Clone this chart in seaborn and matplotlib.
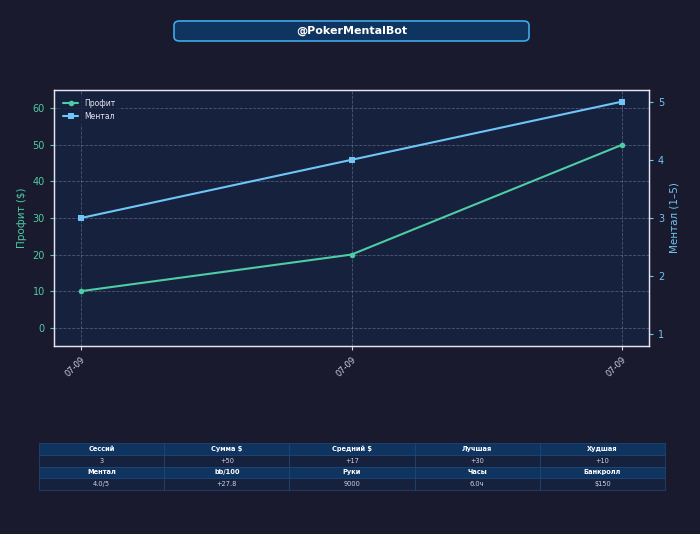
import pandas as pd
import matplotlib
matplotlib.use('Agg')
import matplotlib.pyplot as plt
import seaborn as sns
from matplotlib.patches import FancyBboxPatch

# data
dates = ['07-09', '07-09', '07-09']
profit = [10, 20, 50]
mental = [3, 4, 5]

stat_headers_1 = ['Сессий', 'Сумма $', 'Средний $', 'Лучшая', 'Худшая']
stat_values_1 = ['3', '+50', '+17', '+30', '+10']
stat_headers_2 = ['Ментал', 'bb/100', 'Руки', 'Часы', 'Банкролл']
stat_values_2 = ['4.0/5', '+27.8', '9000', '6.0ч', '$150']

BG = '#1a1a2e'
AX_BG = '#16213e'
HEAD_BG = '#0f3460'
GREEN = '#4ecca3'
BLUE = '#6ec6f7'

sns.set_style('dark')
plt.rcParams['font.family'] = ['DejaVu Sans']

df = pd.DataFrame({'idx': range(len(dates)), 'profit': profit, 'mental': mental})

fig = plt.figure(figsize=(7, 5.34), dpi=100, facecolor=BG)
ax = fig.add_axes([54 / 700, 1 - 346 / 534, 595 / 700, 256 / 534])
ax.set_facecolor(AX_BG)

sns.lineplot(data=df, x='idx', y='profit', ax=ax, color=GREEN, marker='o',
             markersize=4, markeredgewidth=0, linewidth=1.5, label='Профит', legend=False)
ax2 = ax.twinx()
sns.lineplot(data=df, x='idx', y='mental', ax=ax2, color=BLUE, marker='s',
             markersize=4.5, markeredgewidth=0, linewidth=1.5, label='Ментал', legend=False)

ax.set_ylim(-5, 65)
ax2.set_ylim(0.8, 5.2)
ax.set_xlim(-0.1, 2.1)
ax.set_xticks(df['idx'])
ax.set_xticklabels(dates, rotation=45, ha='right', rotation_mode='anchor')
ax.set_yticks([0, 10, 20, 30, 40, 50, 60])
ax2.set_yticks([1, 2, 3, 4, 5])

ax.grid(True, color='#8a8fa8', linestyle='--', linewidth=0.6, alpha=0.5)
ax2.grid(False)

ax.set_xlabel('')
ax.set_ylabel('Профит ($)', color=GREEN, fontsize=7.5)
ax2.set_ylabel('Ментал (1–5)', color=BLUE, fontsize=7.5)
ax.tick_params(axis='y', colors=GREEN, labelsize=7, length=3, left=True)
ax.tick_params(axis='x', colors='#cfd3e0', labelsize=6, length=3, bottom=True)
ax2.tick_params(axis='y', colors=BLUE, labelsize=7, length=3, right=True)
for a in (ax, ax2):
    for s in a.spines.values():
        s.set_color('#e6e6f0')
        s.set_linewidth(0.9)

h1, l1 = ax.get_legend_handles_labels()
h2, l2 = ax2.get_legend_handles_labels()
leg = ax.legend(h1 + h2, l1 + l2, loc='upper left', fontsize=5.5, frameon=True,
                facecolor=AX_BG, edgecolor=AX_BG, labelcolor='#e6e6f0',
                borderaxespad=0.8)
leg.set_zorder(10)

# title box
box = FancyBboxPatch((174 / 700, 1 - 41 / 534), 355 / 700, 20 / 534,
                     boxstyle='round,pad=0,rounding_size=0.008',
                     transform=fig.transFigure, facecolor=HEAD_BG,
                     edgecolor='#3fa9e6', linewidth=1.2)
fig.patches.append(box)
fig.text(352 / 700, 1 - 31 / 534, '@PokerMentalBot', ha='center', va='center',
         color='white', fontsize=8, fontweight='bold')

# stats table
tax = fig.add_axes([39 / 700, 1 - 490 / 534, 626 / 700, 47 / 534])
tax.axis('off')
rows = [stat_headers_1, stat_values_1, stat_headers_2, stat_values_2]
tbl = tax.table(cellText=rows, loc='center', cellLoc='center', bbox=[0, 0, 1, 1])
tbl.auto_set_font_size(False)
for (r, c), cell in tbl.get_celld().items():
    cell.set_edgecolor('#1f4a7a')
    cell.set_linewidth(0.5)
    if r % 2 == 0:
        cell.set_facecolor(HEAD_BG)
        cell.get_text().set_color('white')
        cell.get_text().set_fontweight('bold')
        cell.get_text().set_fontsize(4.8)
    else:
        cell.set_facecolor(AX_BG)
        cell.get_text().set_color('#cfd3e0')
        cell.get_text().set_fontsize(4.8)

fig.savefig('out.png', dpi=100, facecolor=BG)
